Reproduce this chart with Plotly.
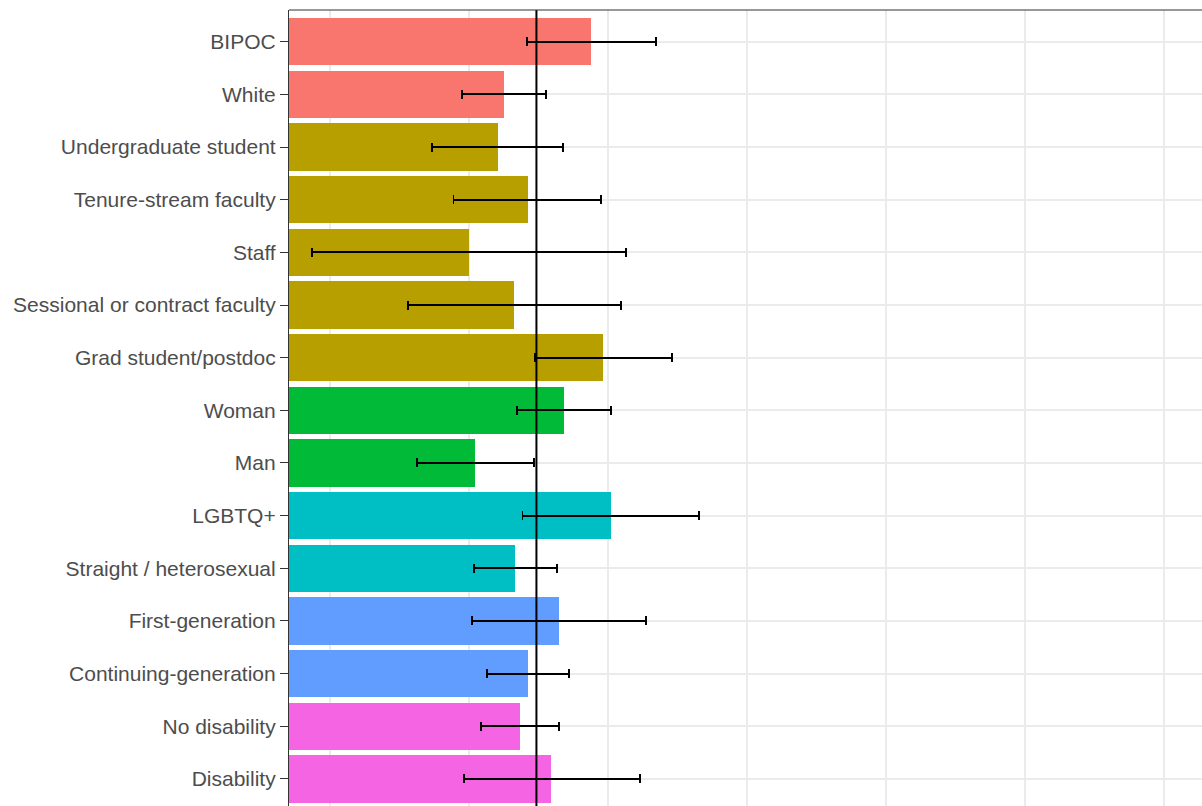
import plotly.graph_objects as go

# Share (%) by respondent group, with 95% confidence bounds
categories = [
    "BIPOC", "White",
    "Undergraduate student", "Tenure-stream faculty", "Staff",
    "Sessional or contract faculty", "Grad student/postdoc",
    "Woman", "Man",
    "LGBTQ+", "Straight / heterosexual",
    "First-generation", "Continuing-generation",
    "No disability", "Disability",
]
groups = [
    "Race", "Race",
    "Role", "Role", "Role", "Role", "Role",
    "Gender", "Gender",
    "Sexuality", "Sexuality",
    "Generation", "Generation",
    "Disability", "Disability",
]
share = [24.39, 21.26, 21.03, 22.11, 20.00, 21.63, 24.82, 23.41, 20.22,
         25.12, 21.67, 23.24, 22.13, 21.83, 22.97]
ci_low = [22.08, 19.76, 18.68, 19.45, 14.35, 17.81, 22.39, 21.74, 18.12,
          21.93, 20.19, 20.12, 20.66, 20.43, 19.82]
ci_high = [26.74, 22.78, 23.38, 24.76, 25.64, 25.46, 27.30, 25.10, 22.35,
           28.28, 23.18, 26.37, 23.59, 23.24, 26.16]
overall = 22.43

group_colors = {
    "Race": "#F8766D",
    "Role": "#B79F00",
    "Gender": "#00BA38",
    "Sexuality": "#00BFC4",
    "Generation": "#619CFF",
    "Disability": "#F564E3",
}

positions = list(range(len(categories)))

fig = go.Figure()
fig.add_trace(go.Bar(
    y=positions,
    x=share,
    orientation="h",
    width=0.9,
    marker=dict(color=[group_colors[g] for g in groups], line=dict(width=0)),
    error_x=dict(
        type="data",
        symmetric=False,
        array=[h - v for h, v in zip(ci_high, share)],
        arrayminus=[v - l for l, v in zip(ci_low, share)],
        color="black",
        thickness=1.8,
        width=4.5,
    ),
    showlegend=False,
    hoverinfo="skip",
))

# reference line at the overall share
fig.add_shape(type="line", xref="x", yref="paper", x0=overall, x1=overall,
              y0=0, y1=1, line=dict(color="black", width=2), layer="above")
# panel border (top)
fig.add_shape(type="line", xref="paper", yref="paper", x0=0, x1=1, y0=1, y1=1,
              line=dict(color="#333333", width=1.2), layer="above")

fig.update_layout(
    width=1202,
    height=806,
    margin=dict(l=289, r=0, t=10, b=0),
    paper_bgcolor="white",
    plot_bgcolor="white",
    font=dict(family="Liberation Sans, Arial, sans-serif", size=21, color="#4D4D4D"),
    bargap=0,
)
fig.update_xaxes(
    range=[13.53, 46.37],
    tick0=0, dtick=5,
    showgrid=True, gridcolor="#EBEBEB", gridwidth=1.5,
    showticklabels=False, ticks="",
    zeroline=False, showline=False,
)
fig.update_yaxes(
    range=[14.514, -0.602],
    tickmode="array", tickvals=positions, ticktext=categories,
    showgrid=True, gridcolor="#EBEBEB", gridwidth=1.5,
    ticks="outside", ticklen=8, tickcolor="#333333", tickwidth=1.4,
    showline=True, linecolor="#333333", linewidth=1.2,
    zeroline=False,
)

fig.write_html("out.html")
